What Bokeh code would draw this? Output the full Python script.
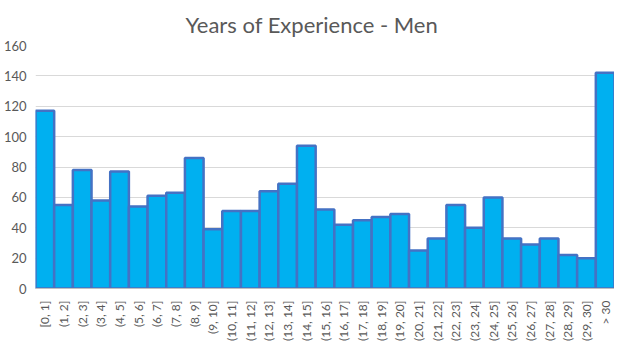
from bokeh.plotting import figure
from bokeh.models import FactorRange, Range1d, ColumnDataSource, FixedTicker
from bokeh.embed import file_html
from bokeh.resources import INLINE
import math

categories = ["[0, 1]"] + [f"({i}, {i+1}]" for i in range(1, 30)] + ["> 30"]
counts = [117, 55, 78, 58, 77, 54, 61, 63, 86, 39,
          51, 51, 64, 69, 94, 52, 42, 45, 47, 49,
          25, 33, 55, 40, 60, 33, 29, 33, 22, 20, 142]
y_ticks = [0, 20, 40, 60, 80, 100, 120, 140, 160]

src = ColumnDataSource(dict(cat=categories, val=counts))

p = figure(width=614, height=344, output_backend="svg", toolbar_location=None,
           x_range=FactorRange(factors=categories), y_range=Range1d(0, 160),
           title="Years of Experience - Men",
           min_border_left=27, min_border_right=0, min_border_top=45, min_border_bottom=52)

p.vbar(x="cat", top="val", width=1.0, source=src,
       fill_color="#00B0F0", line_color="#4472C4", line_width=2.5)

p.title.align = "left"
p.title.offset = 150
p.title.text_font = "Lato"
p.title.text_font_size = "22px"
p.title.text_font_style = "normal"
p.title.text_color = "#595959"
p.title.standoff = 16

p.outline_line_color = None
p.background_fill_color = "white"
p.border_fill_color = "white"

p.xgrid.grid_line_color = None
p.ygrid.grid_line_color = "#D9D9D9"
p.ygrid.grid_line_width = 1

p.yaxis.ticker = FixedTicker(ticks=y_ticks)
p.yaxis.axis_line_color = None
p.yaxis.major_tick_line_color = None
p.yaxis.minor_tick_line_color = None
p.yaxis.major_label_text_font = "Lato"
p.yaxis.major_label_text_font_size = "13px"
p.yaxis.major_label_text_color = "#595959"
p.yaxis.major_label_standoff = 3

p.xaxis.axis_line_color = "#BFBFBF"
p.xaxis.major_tick_line_color = None
p.xaxis.minor_tick_line_color = None
p.xaxis.major_label_orientation = math.pi / 2
p.xaxis.major_label_text_font = "Lato"
p.xaxis.major_label_text_font_size = "12px"
p.xaxis.major_label_text_color = "#595959"
p.xaxis.major_label_standoff = 6

open("out.html", "w").write(file_html(p, INLINE))
